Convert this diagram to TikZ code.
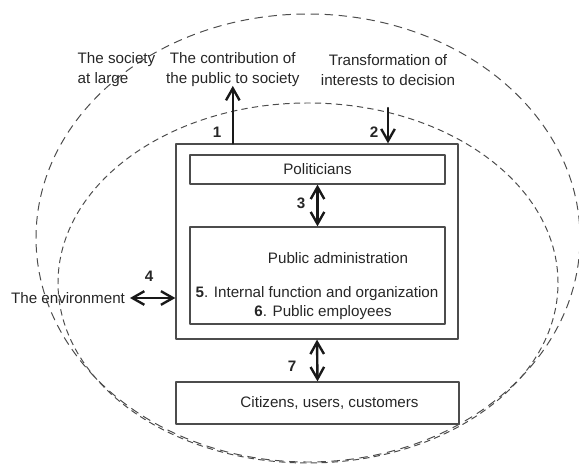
\documentclass[tikz,border=0pt]{standalone}
\usepackage{fontspec}
\setmainfont{Liberation Sans}
\usetikzlibrary{arrows.meta}

\begin{document}
\begin{tikzpicture}[
	every node/.style={font=\fontsize{10.8}{14.2}\selectfont, text=black!85},
	box/.style={draw=black!70, line width=0.9pt, minimum width=6.375cm, inner sep=0pt},
	note/.style={align=center, inner sep=1pt},
	num/.style={font=\fontsize{10.8}{13}\selectfont\bfseries},
	link/.style={line width=1.7pt, black!90, {Straight Barb[length=3mm,width=3.4mm]}-{Straight Barb[length=3mm,width=3.4mm]}},
	oneway/.style={line width=1.7pt, black!90, -{Straight Barb[length=3mm,width=3.4mm]}},
	ring/.style={black!70, line width=0.7pt, line cap=butt},
	line cap=round,
	line join=round
	]

	% Page frame
	\useasboundingbox (0,0) rectangle (14.475,11.575);

	% Society at large and the environment
	\draw[ring, dash pattern=on 6pt off 4pt] (7.7,5.625) ellipse [x radius=6.8, y radius=5.6];
	\draw[ring, dash pattern=on 4.5pt off 3pt] (7.7,4.5) ellipse [x radius=6.25, y radius=4.5];

	% Boxes
	\node[box, minimum width=7.05cm, minimum height=4.875cm] (public) at (7.925,5.5375) {};
	\node[box, minimum height=0.725cm] (politicians) at (7.9375,7.3375) {Politicians};
	\node[box, minimum height=2.425cm] (admin) at (7.9375,4.6875) {};
	\node[box, minimum width=7.075cm, minimum height=1.05cm] (citizens) at (7.9375,1.5) {\hspace*{0.6cm}Citizens, users, customers};

	% Inside the administration
	\node (admintitle) at (8.45,5.125) {Public administration};
	\node (internal) at (7.925,4.225) {\textbf{5}. Internal function and organization};
	\node (employees) at (8.075,3.75) {\textbf{6}. Public employees};

	% Outside texts
	\node[note, align=left, anchor=west] (society) at (1.9,9.825) {The society\\at large};
	\node[note] (contribution) at (5.82,9.825) {The contribution of\\the public to society};
	\node[note] (transformation) at (9.7,9.825) {Transformation of\\interests to decision};
	\node (environment) at (1.7,4.125) {The environment};
	\coordinate (decision) at (9.7,8.875);

	% Relations
	\draw[oneway, shorten >=-2pt] (public.north -| contribution) -- (contribution.south);
	\draw[oneway] (decision) -- (decision |- public.north);
	\draw[link] (politicians.south) -- (admin.north);
	\draw[link] (environment.east) -- (environment -| public.west);
	\draw[link] (public.south) -- (citizens.north);

	% Numbers
	\node[num] (n1) at (5.425,8.275) {1};
	\node[num] (n2) at (9.35,8.275) {2};
	\node[num] (n3) at (7.525,6.5) {3};
	\node[num] (n4) at (3.725,4.675) {4};
	\node[num] (n7) at (7.3,2.425) {7};

\end{tikzpicture}
\end{document}
